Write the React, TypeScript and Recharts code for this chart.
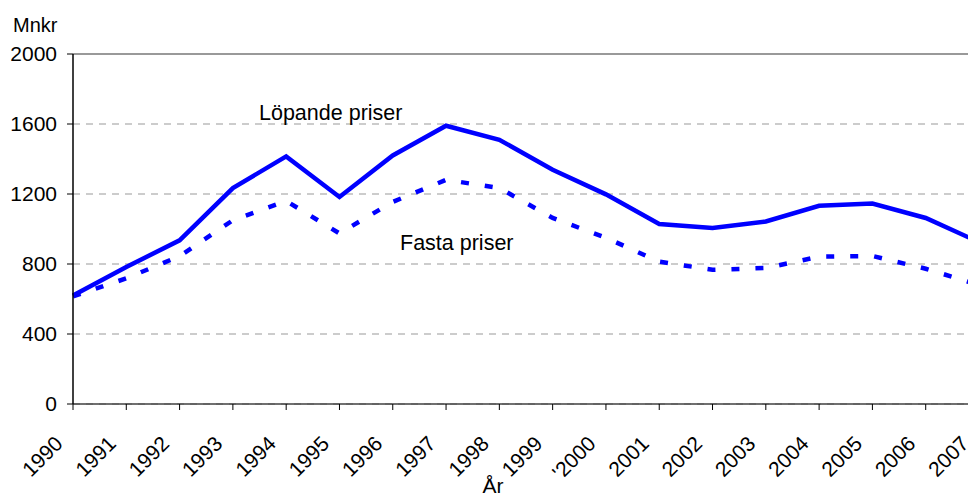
import React from 'react';
import { LineChart, Line, XAxis, YAxis, CartesianGrid, ReferenceLine } from 'recharts';

const years = ['1990', '1991', '1992', '1993', '1994', '1995', '1996', '1997', '1998', '1999', "'2000", '2001', '2002', '2003', '2004', '2005', '2006', '2007'];
const lopandePriser = [620, 783, 935, 1234, 1415, 1183, 1420, 1590, 1510, 1339, 1198, 1029, 1006, 1043, 1133, 1145, 1063, 925];
const fastaPriser = [615, 718, 845, 1050, 1160, 975, 1155, 1281, 1234, 1063, 950, 813, 767, 777, 842, 846, 773, 680];
const yTicks = [0, 400, 800, 1200, 1600, 2000];

const data = years.map((year, i) => ({
  year,
  lopande: lopandePriser[i],
  fasta: fastaPriser[i],
}));

const FONT = '"Liberation Sans", Arial, sans-serif';

const RotatedTick = ({ x, y, payload }: any) => (
  <text
    x={x - 9}
    y={y + 35}
    transform={`rotate(-45, ${x - 9}, ${y + 35})`}
    textAnchor="end"
    fontSize={21}
    fontFamily={FONT}
    fill="#000"
  >
    {payload.value}
  </text>
);

export default function App() {
  return (
    <div
      style={{
        position: 'absolute',
        left: 0,
        top: 0,
        width: 968,
        height: 494,
        overflow: 'hidden',
        background: '#fff',
      }}
    >
      <LineChart
        width={1000}
        height={494}
        data={data}
        margin={{ top: 54, right: 21, left: 0, bottom: 0 }}
      >
        <CartesianGrid vertical={false} stroke="#999" strokeDasharray="7 6" />
        <ReferenceLine y={2000} stroke="#999" strokeWidth={2} />
        <XAxis
          dataKey="year"
          interval={0}
          height={90}
          tickSize={6}
          tickMargin={0}
          axisLine={{ stroke: '#404040', strokeWidth: 1.5 }}
          tickLine={{ stroke: '#000' }}
          tick={<RotatedTick />}
        />
        <YAxis
          width={73}
          domain={[0, 2000]}
          ticks={yTicks}
          interval={0}
          tickSize={6}
          tickMargin={10}
          axisLine={{ stroke: '#000', strokeWidth: 1.5 }}
          tickLine={{ stroke: '#000' }}
          tick={{ fill: '#000', fontSize: 21, fontFamily: FONT }}
        />
        <Line
          type="linear"
          dataKey="lopande"
          stroke="#0000FF"
          strokeWidth={4.5}
          dot={false}
          activeDot={false}
          isAnimationActive={false}
        />
        <Line
          type="linear"
          dataKey="fasta"
          stroke="#0000FF"
          strokeWidth={4.5}
          strokeDasharray="8 16"
          dot={false}
          activeDot={false}
          isAnimationActive={false}
        />
        <text x={13} y={32} fontSize={20} fontFamily={FONT} fill="#000">Mnkr</text>
        <text x={259} y={120} fontSize={21.5} fontFamily={FONT} fill="#000">Löpande priser</text>
        <text x={400} y={250} fontSize={21.5} fontFamily={FONT} fill="#000">Fasta priser</text>
        <text x={493} y={493} fontSize={21} fontFamily={FONT} fill="#000" textAnchor="middle">År</text>
      </LineChart>
    </div>
  );
}
